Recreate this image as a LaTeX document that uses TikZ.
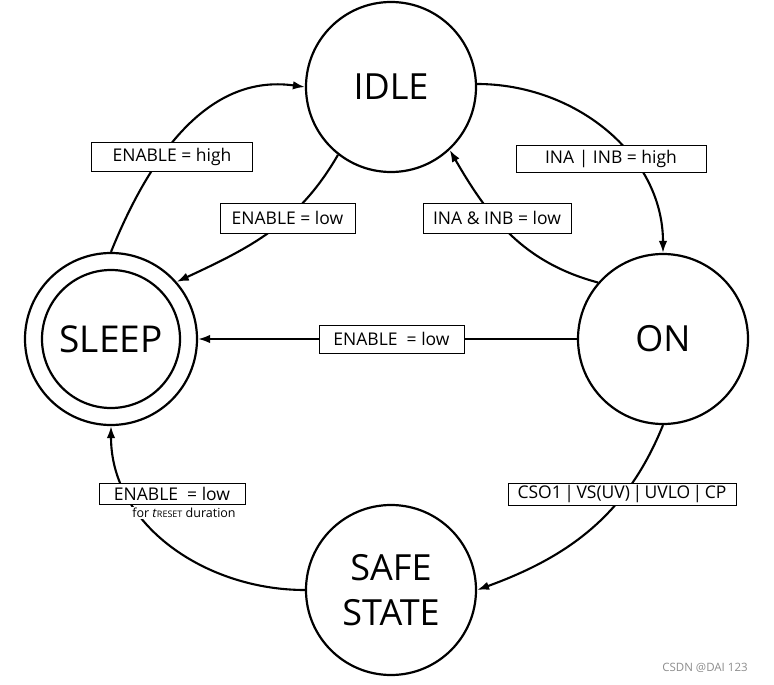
\documentclass[tikz,border=0pt]{standalone}
\usepackage{fontspec}
\setmainfont{Open Sans}
\usetikzlibrary{arrows.meta}
\begin{document}
\begin{tikzpicture}[x=1pt,y=1pt,
  state/.style={circle,draw,line width=2.2pt,minimum size=170pt,inner sep=0pt,align=center,font=\fontsize{36}{45}\selectfont},
  lbl/.style={draw,fill=white,line width=0.8pt,inner sep=0pt,font=\fontsize{17.5}{20}\selectfont},
  conn/.style={line width=2.1pt,-{Latex[length=12pt,width=8.5pt]}}]
\useasboundingbox (0,0) rectangle (774,-685);
% states
\node[state] (idle) at (391,-87) {IDLE};
\node[state] (on) at (663,-339) {ON};
\node[state] (safe) at (391,-590) {SAFE\\STATE};
\node[state,minimum size=172pt] (sleep) at (111,-339) {};
\node[state,minimum size=138pt,font=\fontsize{37}{44}\selectfont] (sleepin) at (111,-339) {SLEEP};
% connectors
\draw[conn] (sleep.north) to[out=68,in=172] (idle.west);
\draw[conn] (idle.-128) to[out=-120,in=25] (sleep.41);
\draw[conn] (idle.2) to[out=0,in=90] (on.north);
\draw[conn] (on.139) to[out=165,in=-60] (idle.-47);
\draw[conn] (on.west) -- (sleep.east);
\draw[conn] (on.south) to[out=-112,in=20] (safe.east);
\draw[conn] (safe.west) to[out=180,in=-90] (sleep.south);
% labels
\node[lbl,minimum width=161pt,minimum height=29pt] (l1) at (172,-157) {ENABLE = high};
\node[lbl,minimum width=135pt,minimum height=30pt] (l2) at (287.5,-218) {ENABLE = low};
\node[lbl,minimum width=190pt,minimum height=27pt] (l3) at (611,-158.5) {INA | INB = high};
\node[lbl,minimum width=148pt,minimum height=30pt] (l4) at (497,-218) {INA \& INB = low};
\node[lbl,minimum width=145pt,minimum height=28pt] (l5) at (391.5,-339) {ENABLE\ \ = low};
\node[lbl,minimum width=228pt,minimum height=22pt] (l6) at (622,-494) {CSO1\hspace{2.5pt}|\hspace{2.5pt}VS(UV)\hspace{2.5pt}|\hspace{2.5pt}UVLO\hspace{2.5pt}|\hspace{2.5pt}CP};
\node[lbl,minimum width=146pt,minimum height=21pt] (l7) at (172,-493.5) {ENABLE\ \ = low};
\node[fill=white,inner sep=1pt,font=\fontsize{12.5}{14}\selectfont] (l7b) at (184,-513) {for \textit{t}{\fontsize{9}{10}\selectfont RESET} duration};
\node[text=black!45,font=\fontsize{11.5}{13}\selectfont] (wm) at (705,-668) {CSDN @DAI 123};
\end{tikzpicture}
\end{document}
